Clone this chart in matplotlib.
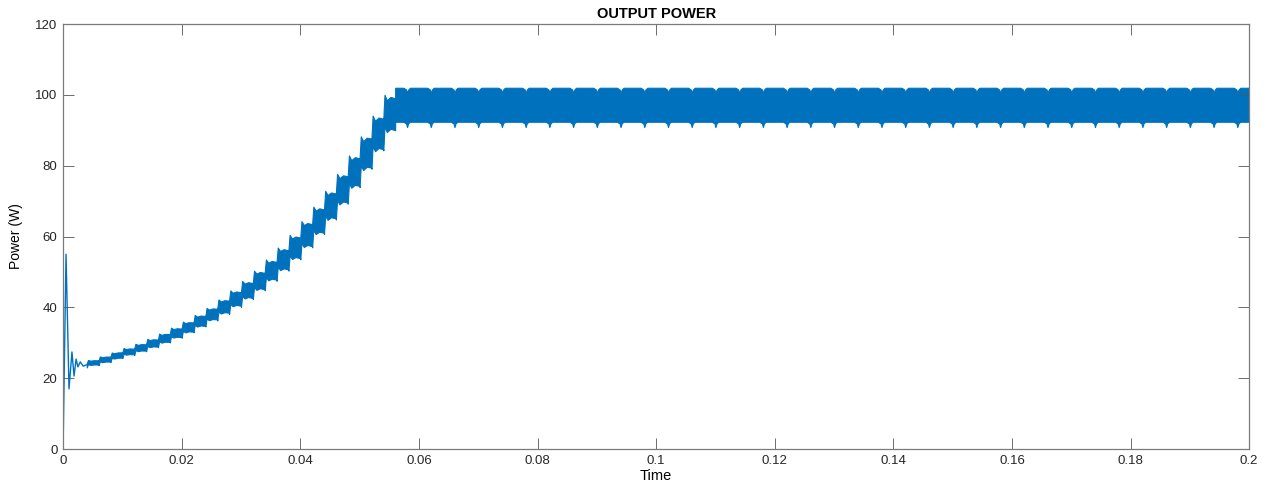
import matplotlib.pyplot as plt
import numpy as np

plt.rcParams['font.family'] = ['Liberation Sans', 'DejaVu Sans']

# start-up transient, drawn as a thin trace
trans_time = [0.0, 0.0005, 0.001, 0.0015, 0.00185, 0.0022, 0.0025, 0.0029, 0.0034, 0.004]
trans_power = [0.0, 55.0, 17.0, 27.4, 20.6, 25.4, 23.2, 24.6, 23.4, 23.8]

# ramp-up: one ripple tooth every 2 ms (start time, band centre, band half-width)
ramp_time = [0.004, 0.006, 0.008, 0.010, 0.012, 0.014, 0.016, 0.018, 0.020,
             0.022, 0.024, 0.026, 0.028, 0.030, 0.032, 0.034, 0.036, 0.038,
             0.040, 0.042, 0.044, 0.046, 0.048, 0.050, 0.052, 0.054]
ramp_mid = [24.0, 24.8, 25.8, 27.0, 28.0, 29.2, 30.5, 32.0, 33.5,
            35.2, 37.0, 39.0, 41.2, 43.5, 46.0, 48.8, 51.8, 55.0,
            58.5, 62.2, 66.3, 70.7, 75.5, 80.5, 86.0, 91.5]
ramp_half = [0.6, 0.7, 0.75, 0.8, 0.9, 1.0, 1.1, 1.2, 1.3,
             1.4, 1.5, 1.7, 1.9, 2.1, 2.3, 2.5, 2.7, 2.9,
             3.1, 3.3, 3.5, 3.7, 3.9, 4.1, 4.3, 4.5]
ripple_period = 0.002
tooth_frac = [0.0, 0.1, 0.3, 0.6, 1.0]
tooth_shape = [-0.7, 0.9, 0.2, 0.0, -0.7]

# steady state: band with a short dip every 4 ms
steady_start = 0.056
steady_end = 0.2
steady_top = 102.0
steady_bottom = 92.4
notch_time = [0.058, 0.062, 0.066, 0.070, 0.074, 0.078, 0.082, 0.086, 0.090,
              0.094, 0.098, 0.102, 0.106, 0.110, 0.114, 0.118, 0.122, 0.126,
              0.130, 0.134, 0.138, 0.142, 0.146, 0.150, 0.154, 0.158, 0.162,
              0.166, 0.170, 0.174, 0.178, 0.182, 0.186, 0.190, 0.194, 0.198]
notch_dt = [-0.0006, -0.00015, 0.0, 0.0002, 0.0005]
notch_top = [0.0, -0.5, -1.5, -0.5, 0.0]
notch_bottom = [0.0, -0.5, -1.5, -0.4, 0.0]

# centre of the band at the start of each tooth and at the end of the ramp
centres = ramp_mid + [(steady_top + steady_bottom) / 2]

t, up, lo = [], [], []
for k, (tk, h) in enumerate(zip(ramp_time, ramp_half)):
    m0, m1 = centres[k], centres[k + 1]
    s = 0.85 * h
    for f, o in zip(tooth_frac, tooth_shape):
        m = m0 + f * (m1 - m0)
        t.append(tk + f * ripple_period)
        up.append(m + h + o * s)
        lo.append(m - h + o * s)

t.append(steady_start)
up.append(steady_top)
lo.append(steady_bottom)
for tn in notch_time:
    for dt, a, b in zip(notch_dt, notch_top, notch_bottom):
        t.append(tn + dt)
        up.append(steady_top + a)
        lo.append(steady_bottom + b)
t.append(steady_end)
up.append(steady_top)
lo.append(steady_bottom)

blue = '#0072BD'
fig = plt.figure(figsize=(12.74, 4.87), dpi=100)
ax = fig.add_axes([0.0495, 0.078, 0.931, 0.8727])

ax.plot(trans_time, trans_power, color=blue, lw=1.0)
ax.fill_between(t, lo, up, color=blue, lw=0.8, edgecolor=blue)

ax.set_xlim(0, 0.2)
ax.set_ylim(0, 120)
xt = [0, 0.02, 0.04, 0.06, 0.08, 0.1, 0.12, 0.14, 0.16, 0.18, 0.2]
ax.set_xticks(xt)
ax.set_xticklabels(['0', '0.02', '0.04', '0.06', '0.08', '0.1', '0.12',
                    '0.14', '0.16', '0.18', '0.2'])
ax.set_yticks([0, 20, 40, 60, 80, 100, 120])

ax.tick_params(direction='in', top=True, right=True, length=8, width=0.6,
               colors='#555555', labelcolor='#262626', labelsize=9.5, pad=4)
for sp in ax.spines.values():
    sp.set_color('#7a7a7a')
    sp.set_linewidth(0.9)

ax.set_title('OUTPUT POWER', fontsize=10.5, fontweight='bold', pad=4)
ax.set_xlabel('Time', fontsize=10.5, labelpad=2)
ax.set_ylabel('Power (W)', fontsize=10, labelpad=9)

fig.savefig('out.png', dpi=100)
